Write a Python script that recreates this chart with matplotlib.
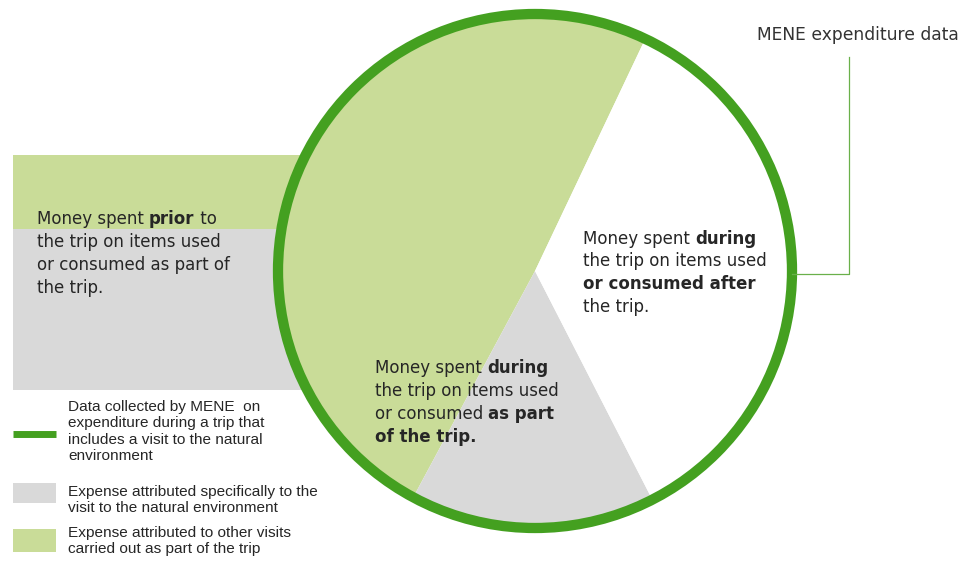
import matplotlib
matplotlib.use("Agg")
import matplotlib.pyplot as plt
from matplotlib.patches import Rectangle, Circle

# ---- data ----
slice_names = ["Other visits (light green)", "Natural environment (grey)", "After the trip (white)"]
slice_shares = [49.2, 15.4, 35.4]          # percent of the circle
slice_colors = ["#c9dc98", "#d9d9d9", "#ffffff"]
start_angle = 64.6

left_text = ["Money spent **prior** to", "the trip on items used",
             "or consumed as part of", "the trip."]
middle_text = ["Money spent **during**", "the trip on items used",
               "or consumed **as part**", "**of the trip.**"]
right_text = ["Money spent **during**", "the trip on items used",
              "**or consumed after**", "the trip."]
legend_items = [
    ["Data collected by MENE  on", "expenditure during a trip that",
     "includes a visit to the natural", "environment"],
    ["Expense attributed specifically to the", "visit to the natural environment"],
    ["Expense attributed to other visits", "carried out as part of the trip"],
]
callout_label = "MENE expenditure data"

RING = "#44a020"
LGREEN = "#c9dc98"
GREY = "#d9d9d9"
TXT = "#262626"

W, H = 968, 566
fig = plt.figure(figsize=(W / 100, H / 100), dpi=100)
ax = fig.add_axes([0, 0, 1, 1])
Y = lambda y: H - y

cx, cy, r = 535, 271, 257

# background boxes on the left
ax.add_patch(Rectangle((13, Y(229)), 290, 229 - 155, facecolor=LGREEN, edgecolor="none", zorder=1))
ax.add_patch(Rectangle((13, Y(390)), 290, 390 - 229, facecolor=GREY, edgecolor="none", zorder=1))

# pie slices
wedges, _ = ax.pie(slice_shares, colors=slice_colors, startangle=start_angle,
                   counterclock=True, center=(cx, Y(cy)), radius=r,
                   wedgeprops=dict(linewidth=0), frame=True)
for w in wedges:
    w.set_zorder(2)

# ring
ax.add_patch(Circle((cx, Y(cy)), r, facecolor="none", edgecolor=RING, linewidth=7.4, zorder=3))

# callout connector
ax.plot([849, 849, 792], [Y(57), Y(274), Y(274)], color="#6ab04a", linewidth=0.9, zorder=4)
ax.text(757, Y(35), callout_label, fontsize=12.3, color="#333333", va="center", ha="left",
        family="DejaVu Sans")

ax.set_xlim(0, W)
ax.set_ylim(0, H)
ax.set_aspect("auto")
ax.axis("off")

renderer = fig.canvas.get_renderer()


def width_of(s, **kw):
    t = ax.text(0, 0, s, **kw)
    w = t.get_window_extent(renderer).width
    t.remove()
    return w


def rich_lines(x, y0, lines, dy, size, family="DejaVu Sans"):
    base = dict(fontsize=size, family=family)
    for i, line in enumerate(lines):
        y = Y(y0 + i * dy)
        xx = x
        parts = line.split("**")
        for j, part in enumerate(parts):
            if not part:
                continue
            wt = "bold" if j % 2 == 1 else "normal"
            ax.text(xx, y, part, fontweight=wt, color=TXT, va="baseline",
                    ha="left", zorder=6, **base)
            xx += width_of(part + "|", fontweight=wt, **base) - width_of("|", fontweight=wt, **base)


rich_lines(37, 224, left_text, 23, 12)
rich_lines(375, 373, middle_text, 23, 12)
rich_lines(583, 244, right_text, 22.5, 12)

# legend
ax.plot([13, 56], [Y(434), Y(434)], color=RING, linewidth=5.0, solid_capstyle="butt")
ax.add_patch(Rectangle((13, Y(503)), 43, 20, facecolor=GREY, edgecolor="none"))
ax.add_patch(Rectangle((13, Y(552)), 43, 23, facecolor=LGREEN, edgecolor="none"))
leg_y = [411, 496, 537]
for ys, lines in zip(leg_y, legend_items):
    for i, line in enumerate(lines):
        ax.text(68, Y(ys + i * 16.5), line, fontsize=11.1, family="Liberation Sans",
                color=TXT, va="baseline", ha="left")

fig.savefig("out.png", dpi=100)
